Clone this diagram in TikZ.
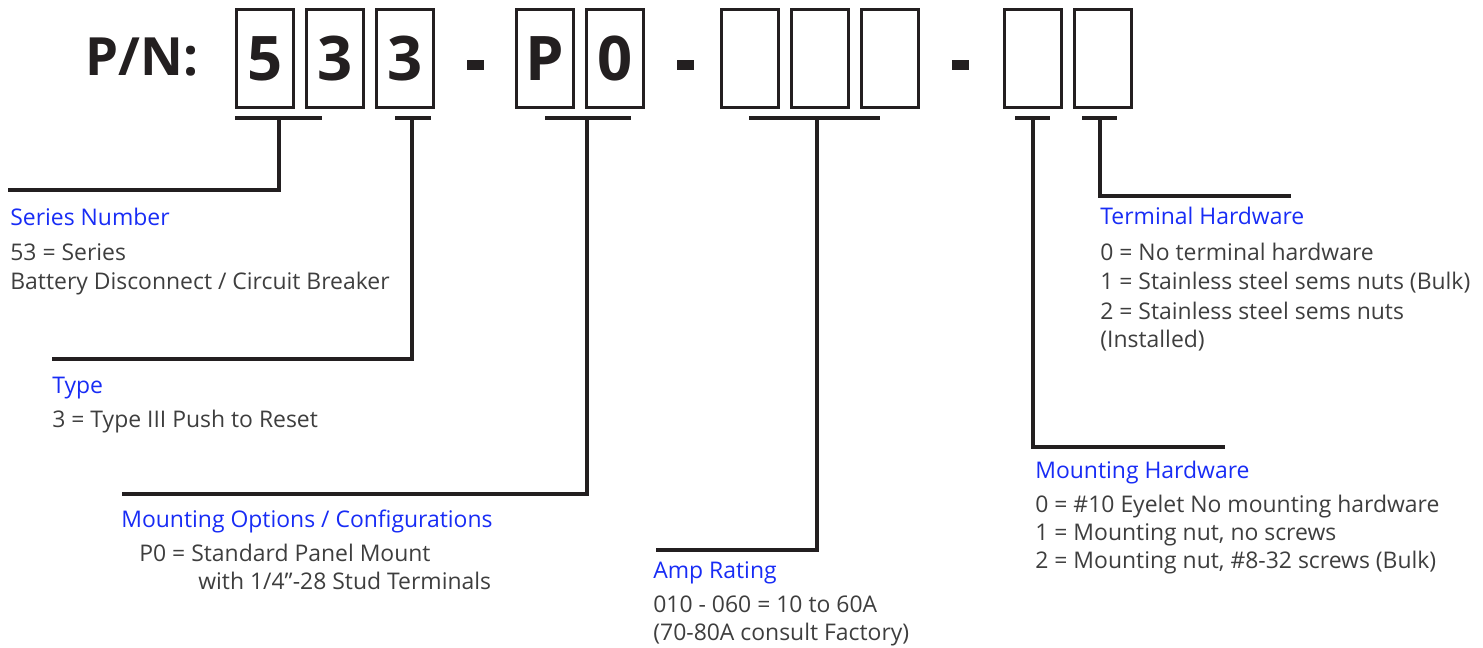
\documentclass[tikz,border=0pt]{standalone}
\usepackage{fontspec}
\setmainfont{Open Sans}
\definecolor{linec}{RGB}{35,31,32}
\definecolor{headc}{RGB}{24,44,245}
\definecolor{bodyc}{RGB}{62,62,62}
\tikzset{
  digitbox/.style={draw=linec, line width=1.3pt, minimum width=1.14cm, minimum height=1.96cm,
    inner sep=0pt, text=linec, font=\fontsize{35}{35}\selectfont\bfseries},
  dashbar/.style={fill=linec, draw=none, minimum width=0.34cm, minimum height=0.2cm, inner sep=0pt},
  bar/.style={draw=linec, line width=2.4pt},
  conn/.style={draw=linec, line width=1.9pt, line join=miter},
  head/.style={anchor=base west, inner sep=0pt, text=headc, font=\fontsize{13.05}{15}\selectfont},
  body/.style={anchor=base west, inner sep=0pt, text=bodyc, font=\fontsize{13.05}{15}\selectfont},
}
\begin{document}
\begin{tikzpicture}[x=0.02cm,y=-0.02cm]
\useasboundingbox (0,0) rectangle (1483,648);
% title
\node[anchor=base west, inner sep=0pt, text=linec, font=\fontsize{30}{30}\selectfont\bfseries] (pn) at (85,76) {P/N:};
% boxes
\node[digitbox] (b1) at (265,58.5) {5};
\node[digitbox] (b2) at (335,58.5) {3};
\node[digitbox] (b3) at (405,58.5) {3};
\node[dashbar] (d1) at (475,65) {};
\node[digitbox] (b4) at (545,58.5) {P};
\node[digitbox] (b5) at (615,58.5) {0};
\node[dashbar] (d2) at (685,65) {};
\node[digitbox] (b6) at (750,58.5) {};
\node[digitbox] (b7) at (820,58.5) {};
\node[digitbox] (b8) at (890,58.5) {};
\node[dashbar] (d3) at (960,65) {};
\node[digitbox] (b9) at (1033,58.5) {};
\node[digitbox] (b10) at (1103,58.5) {};
% bar coordinates
\coordinate (bar1w) at (235,118); \coordinate (bar1e) at (322,118); \coordinate (bar1m) at (279,118);
\coordinate (bar2w) at (395,118); \coordinate (bar2e) at (431,118); \coordinate (bar2m) at (412,118);
\coordinate (bar3w) at (545,118); \coordinate (bar3e) at (631,118); \coordinate (bar3m) at (587,118);
\coordinate (bar4w) at (749,118); \coordinate (bar4e) at (880,118); \coordinate (bar4m) at (817,118);
\coordinate (bar5w) at (1015,118); \coordinate (bar5e) at (1050,118); \coordinate (bar5m) at (1033,118);
\coordinate (bar6w) at (1082,118); \coordinate (bar6e) at (1117,118); \coordinate (bar6m) at (1100,118);
\coordinate (end1) at (8,190);
\coordinate (end2) at (52,359);
\coordinate (end3) at (122,494);
\coordinate (end4) at (656,550);
\coordinate (end5) at (1225,447);
\coordinate (end6) at (1291,196);
\foreach \i in {1,...,6} {\draw[bar] (bar\i w) -- (bar\i e);}
\draw[conn] (bar1m) |- (end1);
\draw[conn] (bar2m) |- (end2);
\draw[conn] (bar3m) |- (end3);
\draw[conn] (bar4m) |- (end4);
\draw[conn] (bar5m) |- (end5);
\draw[conn] (bar6m) |- (end6);
% labels
\node[head] (s0) at (10,226) {Series Number};
\node[body] (s1) at (10,261) {53 = Series};
\node[body] (s2) at (10,290) {Battery Disconnect / Circuit Breaker};
\node[head] (t0) at (52,393) {Type};
\node[body] (t1) at (52,427) {3 = Type III Push to Reset};
\node[head] (m0) at (121,527) {Mounting Options / Configurations};
\node[body] (m1) at (139,561) {P0 = Standard Panel Mount};
\node[body] (m2) at (198,589) {with 1/4\char"201D-28 Stud Terminals};
\node[head] (a0) at (653,578) {Amp Rating};
\node[body] (a1) at (653,612) {010 - 060 = 10 to 60A};
\node[body] (a2) at (653,640) {(70-80A consult Factory)};
\node[head] (h0) at (1100,225) {Terminal Hardware};
\node[body] (h1) at (1100,261) {0 = No terminal hardware};
\node[body] (h2) at (1100,290) {1 = Stainless steel sems nuts (Bulk)};
\node[body] (h3) at (1100,319) {2 = Stainless steel sems nuts};
\node[body] (h4) at (1100,347) {(Installed)};
\node[head] (k0) at (1035,478) {Mounting Hardware};
\node[body] (k1) at (1035,512) {0 = \#10 Eyelet No mounting hardware};
\node[body] (k2) at (1035,540) {1 = Mounting nut, no screws};
\node[body] (k3) at (1035,568) {2 = Mounting nut, \#8-32 screws (Bulk)};
\end{tikzpicture}
\end{document}
